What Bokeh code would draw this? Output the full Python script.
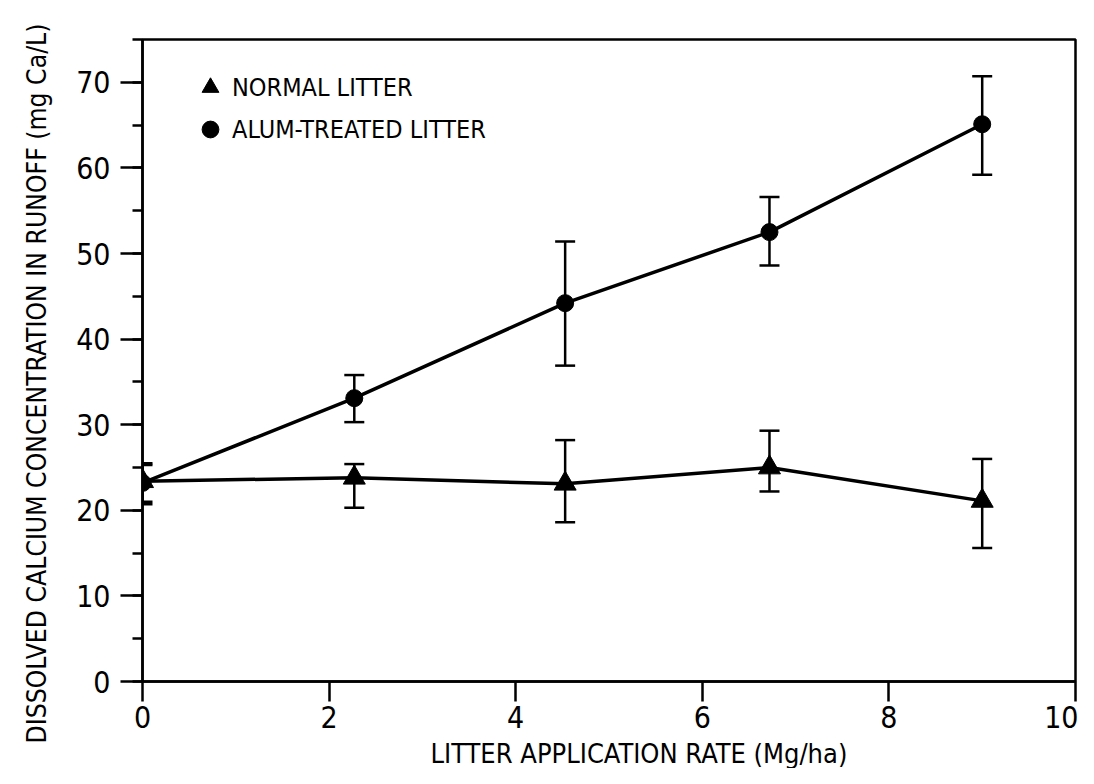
from bokeh.plotting import figure
from bokeh.models import (ColumnDataSource, Whisker, TeeHead, Legend, LegendItem,
                          FixedTicker, SingleIntervalTicker, Range1d, Title)
from bokeh.embed import file_html
from bokeh.resources import INLINE

# ---- data ----
rate = [0.0, 2.27, 4.53, 6.72, 9.0]

normal_mean = [23.4, 23.8, 23.1, 25.0, 21.1]
normal_upper = [25.5, 25.4, 28.2, 29.3, 26.0]
normal_lower = [21.0, 20.3, 18.6, 22.2, 15.6]

alum_mean = [23.2, 33.1, 44.2, 52.5, 65.1]
alum_upper = [25.3, 35.8, 51.4, 56.6, 70.7]
alum_lower = [20.7, 30.3, 36.9, 48.6, 59.2]

x_ticks = [0, 2, 4, 6, 8, 10]
series_labels = ["NORMAL LITTER", "ALUM-TREATED LITTER"]
x_title = "LITTER APPLICATION RATE (Mg/ha)"
y_title = "DISSOLVED CALCIUM CONCENTRATION IN RUNOFF (mg Ca/L)"

FONT = "'DejaVu Sans Condensed', 'Liberation Sans Narrow', sans-serif"

p = figure(width=1078, height=768, output_backend="svg", toolbar_location=None,
           x_range=Range1d(0, 10), y_range=Range1d(0, 75),
           min_border_left=142, min_border_right=3, min_border_top=39, min_border_bottom=86)
p.grid.visible = False
p.outline_line_color = "black"
p.outline_line_width = 2.5
p.background_fill_color = "white"
p.border_fill_color = "white"

normal_src = ColumnDataSource(dict(x=rate, y=normal_mean, upper=normal_upper, lower=normal_lower))
alum_src = ColumnDataSource(dict(x=rate, y=alum_mean, upper=alum_upper, lower=alum_lower))

for src in (normal_src, alum_src):
    w = Whisker(base="x", upper="upper", lower="lower", source=src, dimension="height",
                line_color="black", line_width=2.5,
                upper_head=TeeHead(size=20, line_width=2.5, line_color="black"),
                lower_head=TeeHead(size=20, line_width=2.5, line_color="black"))
    p.add_layout(w)

p.line("x", "y", source=normal_src, line_color="black", line_width=3.5)
p.line("x", "y", source=alum_src, line_color="black", line_width=3.5)
tri = p.scatter("x", "y", source=normal_src, marker="triangle", size=22,
                fill_color="black", line_color="black")
cir = p.scatter("x", "y", source=alum_src, marker="circle", size=17,
                fill_color="black", line_color="black")

legend = Legend(items=[LegendItem(label=series_labels[0], renderers=[tri]),
                       LegendItem(label=series_labels[1], renderers=[cir])],
                location=(46, 531), glyph_width=44, glyph_height=42, label_standoff=0,
                spacing=0, padding=0, margin=0, border_line_alpha=0, background_fill_alpha=0,
                label_text_font=FONT, label_text_font_size="25px", label_text_color="black")
p.add_layout(legend)

xa = p.xaxis[0]
xa.ticker = FixedTicker(ticks=x_ticks)
xa.major_tick_out = 20
xa.major_tick_in = 0
xa.minor_tick_out = 0
xa.minor_tick_in = 0
xa.major_label_standoff = 4
# a blank spacer label pushes the title text a little lower
xa.axis_label = " "
xa.axis_label_text_font_size = "2px"
xa.axis_label_standoff = 0

ya = p.yaxis[0]
ya.ticker = SingleIntervalTicker(interval=10, num_minor_ticks=2)
ya.major_tick_out = 22
ya.major_tick_in = 0
ya.minor_tick_out = 10
ya.minor_tick_in = 0
ya.major_label_standoff = 10

for ax in (xa, ya):
    ax.axis_line_width = 2.5
    ax.axis_line_color = "black"
    ax.major_tick_line_width = 2.5
    ax.minor_tick_line_width = 2.5
    ax.major_tick_line_color = "black"
    ax.minor_tick_line_color = "black"
    ax.major_label_text_font = FONT
    ax.major_label_text_font_size = "30px"
    ax.major_label_text_color = "black"

xt = Title(text=x_title, align="left", offset=288, vertical_align="bottom", standoff=0,
           text_font=FONT, text_font_size="27px", text_font_style="normal", text_color="black")
p.add_layout(xt, "below")

yt = Title(text=y_title, align="left", offset=-62, vertical_align="top", standoff=40,
           text_font=FONT, text_font_size="26.3px", text_font_style="normal", text_color="black")
p.add_layout(yt, "left")

open("out.html", "w").write(file_html(p, INLINE))
